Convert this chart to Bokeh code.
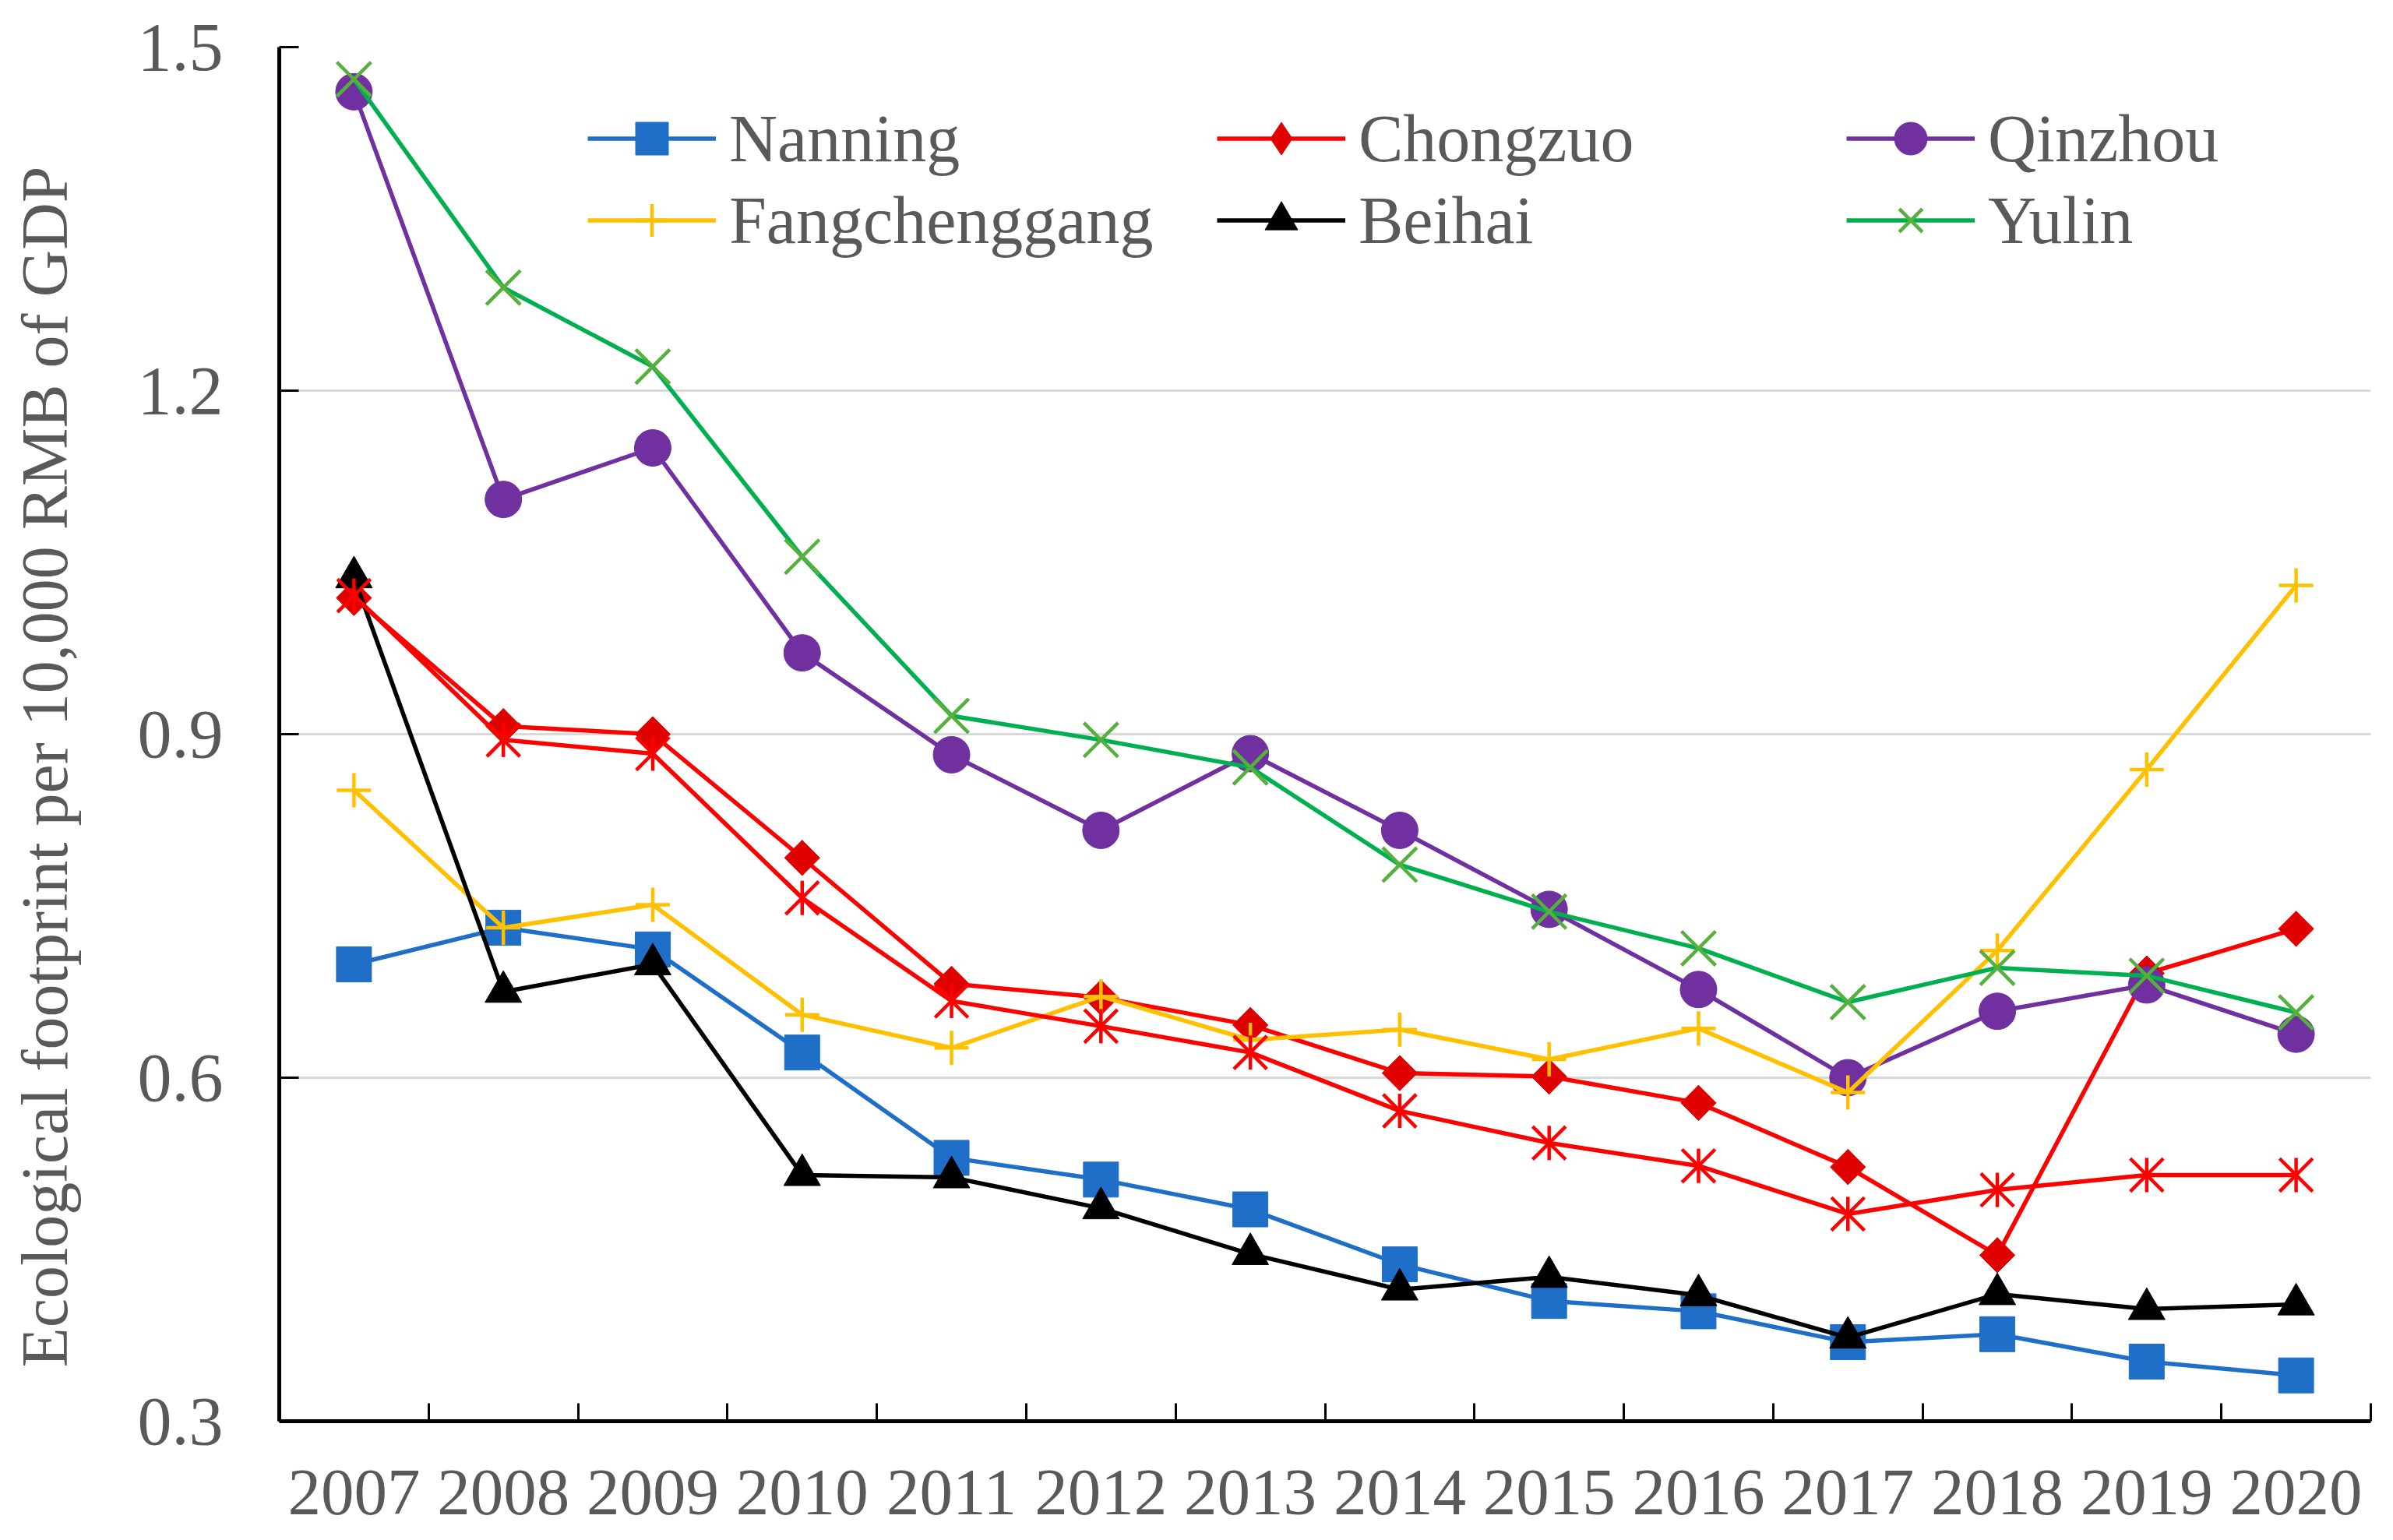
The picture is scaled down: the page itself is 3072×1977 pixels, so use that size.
import math
from bokeh.plotting import figure
from bokeh.models import (FixedTicker, Legend, LegendItem, Range1d, PrintfTickFormatter)
from bokeh.embed import file_html
from bokeh.resources import INLINE

years = ["2007", "2008", "2009", "2010", "2011", "2012", "2013",
         "2014", "2015", "2016", "2017", "2018", "2019", "2020"]

nanning = [0.699, 0.731, 0.712, 0.622, 0.530, 0.511, 0.485, 0.437, 0.405, 0.396, 0.369, 0.376, 0.352, 0.340]
chongzuo = [1.019, 0.907, 0.900, 0.792, 0.682, 0.670, 0.646, 0.604, 0.601, 0.578, 0.522, 0.445, 0.691, 0.730]
qinzhou = [1.461, 1.105, 1.150, 0.971, 0.882, 0.816, 0.883, 0.816, 0.747, 0.677, 0.600, 0.658, 0.681, 0.638]
fangchenggang = [0.851, 0.731, 0.751, 0.655, 0.626, 0.671, 0.633, 0.642, 0.616, 0.643, 0.587, 0.711, 0.869, 1.030]
beihai = [1.037, 0.675, 0.699, 0.515, 0.513, 0.486, 0.446, 0.415, 0.426, 0.410, 0.373, 0.411, 0.398, 0.402]
yulin = [1.472, 1.290, 1.221, 1.055, 0.916, 0.895, 0.871, 0.786, 0.745, 0.713, 0.666, 0.696, 0.689, 0.657]
unlabeled = [1.021, 0.895, 0.883, 0.757, 0.667, 0.645, 0.622, 0.571, 0.543, 0.523, 0.481, 0.502, 0.515, 0.515]

y_ticks = [0.3, 0.6, 0.9, 1.2, 1.5]
y_title = "Ecological footprint per 10,000 RMB of GDP"

FONT = "Liberation Serif"
TXT = "#595959"

x = list(range(len(years)))

p = figure(width=3056, height=1960, output_backend="svg", toolbar_location=None,
           x_range=Range1d(-0.5, len(years) - 0.5), y_range=Range1d(0.3, 1.5),
           min_border_left=358, min_border_right=13, min_border_top=60, min_border_bottom=136)
p.outline_line_color = None
p.background_fill_color = "white"

# axes
xa = p.xaxis[0]
xa.ticker = FixedTicker(ticks=x, minor_ticks=[i - 0.5 for i in range(len(years) + 1)])
xa.major_label_overrides = {i: years[i] for i in x}
xa.major_tick_line_color = None
xa.minor_tick_in = 23
xa.minor_tick_out = 0
xa.minor_tick_line_width = 3
xa.minor_tick_line_color = "black"
xa.axis_line_width = 5
xa.axis_line_color = "black"
xa.major_label_text_font = FONT
xa.major_label_text_font_size = "85px"
xa.major_label_text_color = TXT
xa.major_label_standoff = 57

ya = p.yaxis[0]
ya.ticker = FixedTicker(ticks=y_ticks)
ya.formatter = PrintfTickFormatter(format="%.1f")
ya.major_tick_in = 25
ya.major_tick_out = 0
ya.major_tick_line_width = 3
ya.minor_tick_line_color = None
ya.axis_line_width = 5
ya.axis_line_color = "black"
ya.major_label_text_font = FONT
ya.major_label_text_font_size = "88px"
ya.major_label_text_color = TXT
ya.major_label_standoff = 72
# trailing no-break spaces shift the centred title slightly toward the bottom, as in the original
ya.axis_label = y_title + "\u00a0" * 4
ya.axis_label_text_font = FONT
ya.axis_label_text_font_size = "84px"
ya.axis_label_text_font_style = "normal"
ya.axis_label_text_color = TXT
ya.axis_label_standoff = 70

p.xgrid.visible = False
p.ygrid.ticker = FixedTicker(ticks=y_ticks)
p.ygrid.grid_line_color = "#D9D9D9"
p.ygrid.grid_line_width = 3

LW = 5.5
items = []

# Nanning
l = p.line(x, nanning, line_color="#1F6FC8", line_width=LW)
s = p.scatter(x, nanning, marker="square", size=45, fill_color="#1F6FC8", line_color="#1F6FC8")
items.append(LegendItem(label="Nanning", renderers=[l, s]))

# Chongzuo (diamond drawn beneath the rotated square so the legend shows a diamond)
l = p.line(x, chongzuo, line_color="#FF0000", line_width=LW)
s_leg = p.scatter(x, chongzuo, marker="diamond", size=45, fill_color="#E00000", line_color="#E00000")
s = p.scatter(x, chongzuo, marker="square", angle=math.pi / 4, size=32,
              fill_color="#E00000", line_color="#E00000")
items.append(LegendItem(label="Chongzuo", renderers=[l, s_leg]))

# Qinzhou
l = p.line(x, qinzhou, line_color="#7030A0", line_width=LW)
s = p.scatter(x, qinzhou, marker="circle", size=47, fill_color="#7030A0", line_color="#7030A0")
items.append(LegendItem(label="Qinzhou", renderers=[l, s]))

# Fangchenggang
l = p.line(x, fangchenggang, line_color="#FFC000", line_width=LW)
s = p.scatter(x, fangchenggang, marker="cross", size=44, line_color="#FFC000", line_width=4.5)
items.append(LegendItem(label="Fangchenggang", renderers=[l, s]))

# Beihai
l = p.line(x, beihai, line_color="black", line_width=LW)
s = p.scatter(x, beihai, marker="triangle", size=47, fill_color="black", line_color="black")
items.append(LegendItem(label="Beihai", renderers=[l, s]))

# Yulin
l = p.line(x, yulin, line_color="#00B050", line_width=LW)
s = p.scatter(x, yulin, marker="x", size=62, line_color="#55B03C", line_width=4.5)
items.append(LegendItem(label="Yulin", renderers=[l, s]))

# unlabeled red asterisk series
p.line(x, unlabeled, line_color="#FF0000", line_width=LW)
p.scatter(x, unlabeled, marker="x", size=60, line_color="#FF0000", line_width=4.5)
p.scatter(x, unlabeled, marker="dash", angle=math.pi / 2, size=44, line_color="#FF0000", line_width=4.5)

legend = Legend(items=items, location=(396, 1765 - 66 - 210), orientation="horizontal", ncols=3,
                glyph_width=165, glyph_height=105, label_height=105, label_width=626,
                label_standoff=17, spacing=0, padding=0, margin=0,
                border_line_color=None, background_fill_alpha=0,
                label_text_font=FONT, label_text_font_size="86px", label_text_color=TXT)
p.add_layout(legend)

open("out.html", "w").write(file_html(p, INLINE))
